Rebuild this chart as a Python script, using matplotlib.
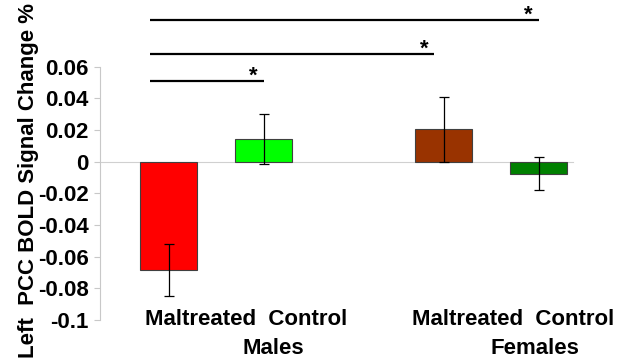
import matplotlib
matplotlib.use("Agg")
import matplotlib.pyplot as plt

plt.rcParams['font.family'] = ['Liberation Sans', 'DejaVu Sans']

# Data
bar_labels = ["Maltreated", "Control", "Maltreated", "Control"]
groups = ["Males", "Females"]
values = [-0.0685, 0.0142, 0.0205, -0.0075]
errors = [0.0162, 0.0160, 0.0205, 0.0103]
colors = ["#FF0000", "#00FF00", "#993300", "#008000"]
positions = [0.0, 1.0, 2.9, 3.9]
yticks = [-0.1, -0.08, -0.06, -0.04, -0.02, 0, 0.02, 0.04, 0.06]
ytick_labels = ["-0.1", "-0.08", "-0.06", "-0.04", "-0.02", "0", "0.02", "0.04", "0.06"]
# significance comparisons: (from bar index, to bar index, height)
sig_pairs = [(0, 1, 0.051), (0, 2, 0.068), (0, 3, 0.0895)]

FS = 16
label_offsets = [0.32, 0.225]
name_offsets = [0.60, 0.46]

fig = plt.figure(figsize=(6.19, 3.6), dpi=100)
ax = fig.add_axes([0.1616, 0.111, 0.7636, 0.880])

ax.bar(positions, values, width=0.6, color=colors, edgecolor="#404040", linewidth=0.8, zorder=2)
ax.errorbar(positions, values, yerr=errors, fmt='none', ecolor='black', elinewidth=0.9,
            capsize=3.3, capthick=0.9, zorder=3)

ax.set_xlim(-0.721, 4.255)
ax.set_ylim(-0.1, 0.1)

for s in ["top", "right"]:
    ax.spines[s].set_visible(False)
ax.spines["left"].set_color("#c8c8c8")
ax.spines["left"].set_bounds(-0.1, 0.06)
ax.spines["bottom"].set_position(("data", 0))
ax.spines["bottom"].set_color("#d0d0d0")
ax.spines["bottom"].set_zorder(1)
ax.set_xticks([])
ax.set_yticks(yticks)
ax.set_yticklabels(ytick_labels, fontsize=FS, fontweight="bold")
ax.tick_params(axis="y", color="#c8c8c8", length=4, width=0.8, pad=4)

ax.set_ylabel("Left  PCC BOLD Signal Change %", fontsize=FS, fontweight="bold")
ax.yaxis.set_label_coords(-0.130, 0.44)

# Category labels
for g, name in enumerate(groups):
    p0 = positions[2 * g]
    p1 = positions[2 * g + 1]
    center = (p0 + p1) / 2
    ax.text(center + label_offsets[g], -0.0995, bar_labels[2 * g] + "  " + bar_labels[2 * g + 1],
            ha="center", va="center", fontsize=FS, fontweight="bold", clip_on=False)
    ax.text(center + name_offsets[g], -0.118, name, ha="center", va="center", fontsize=FS,
            fontweight="bold", clip_on=False)

# Significance lines
for i, j, h in sig_pairs:
    x0 = positions[i] - 0.195
    x1 = positions[j] - (0.1 if j == 2 else 0.0)
    ax.plot([x0, x1], [h, h], color="black", lw=1.6, clip_on=False, solid_capstyle="butt")
    ax.text(x1 - 0.11, h + 0.0027, "*", ha="center", va="center", fontsize=16,
            fontweight="bold", clip_on=False)

fig.savefig("out.png", dpi=100)
